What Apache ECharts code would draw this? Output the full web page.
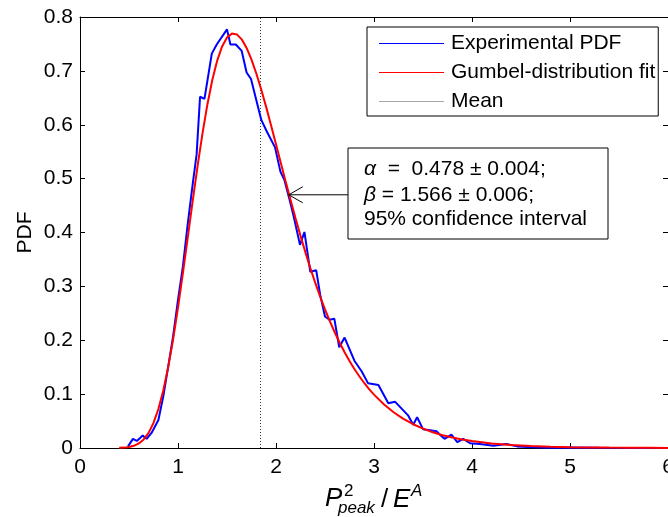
<!DOCTYPE html>
<html>
<head>
<meta charset="utf-8">
<script src="https://cdn.jsdelivr.net/npm/echarts@6/dist/echarts.min.js"></script>
<style>
html,body{margin:0;padding:0;background:#fff;}
#chart{width:668px;height:517px;}
</style>
</head>
<body>
<div id="chart"></div>
<script>
// ---- data ----
const expX = [0.49,0.54,0.58,0.64,0.68,0.73,0.80,0.85,0.90,0.95,1.00,1.05,1.10,1.15,1.19,1.225,1.27,1.345,1.395,1.50,1.535,1.59,1.65,1.70,1.745,1.85,1.905,1.99,2.045,2.085,2.14,2.18,2.245,2.29,2.35,2.41,2.45,2.50,2.545,2.595,2.645,2.70,2.80,2.875,2.94,3.045,3.146,3.214,3.35,3.40,3.44,3.50,3.64,3.67,3.72,3.79,3.85,3.91,3.98,4.08,4.22,4.35,4.46,4.63,4.80,5.00,5.30,5.60,6.00];
const expY = [0.003,0.017,0.013,0.023,0.017,0.028,0.052,0.096,0.151,0.207,0.275,0.337,0.417,0.49,0.545,0.652,0.648,0.732,0.749,0.777,0.749,0.749,0.737,0.697,0.685,0.609,0.588,0.558,0.513,0.498,0.46,0.43,0.377,0.401,0.327,0.330,0.285,0.244,0.238,0.240,0.187,0.205,0.162,0.142,0.120,0.117,0.083,0.086,0.060,0.043,0.057,0.035,0.031,0.025,0.017,0.025,0.011,0.017,0.009,0.0075,0.004,0.0075,0.003,0.0012,0.0005,0.0008,0.0003,0.0002,0.0001];

const fitX = [0.40,0.45,0.50,0.55,0.60,0.65,0.70,0.75,0.80,0.85,0.90,0.95,1.00,1.05,1.10,1.15,1.20,1.25,1.30,1.35,1.40,1.45,1.50,1.55,1.60,1.65,1.70,1.75,1.80,1.85,1.90,1.95,2.00,2.05,2.10,2.15,2.20,2.25,2.30,2.35,2.40,2.45,2.50,2.55,2.60,2.65,2.70,2.75,2.80,2.85,2.90,2.95,3.00,3.1,3.2,3.3,3.4,3.5,3.6,3.7,3.8,3.9,4.0,4.2,4.4,4.6,4.8,5.0,5.2,5.4,5.6,5.8,6.0];
const fitY = [0.0003,0.0007,0.0018,0.0040,0.0084,0.0159,0.0281,0.0465,0.0724,0.1068,0.1501,0.2017,0.2604,0.3245,0.3914,0.4588,0.5238,0.5841,0.6377,0.6831,0.7191,0.7454,0.7620,0.7692,0.7677,0.7585,0.7425,0.7209,0.6947,0.6650,0.6327,0.5988,0.5638,0.5285,0.4935,0.4592,0.4259,0.3938,0.3632,0.3342,0.3069,0.2812,0.2573,0.2350,0.2144,0.1953,0.1777,0.1616,0.1467,0.1332,0.1207,0.1094,0.0991,0.0811,0.0663,0.0542,0.0441,0.0360,0.0293,0.0238,0.0194,0.0157,0.0128,0.0084,0.0056,0.0037,0.0024,0.0016,0.0010,0.0007,0.0005,0.0003,0.0002];

const meanValue = 1.842;
const xRange = [0, 6];
const xStep = 1;
const yRange = [0, 0.8];
const yStep = 0.1;
const seriesNames = ['Experimental PDF', 'Gumbel-distribution fit', 'Mean'];
const annotationLines = ['0.478 \u00b1 0.004;', '1.566 \u00b1 0.006;', '95% confidence interval'];

// ---- chart ----
const FONT = 'Arial, "Liberation Sans", Helvetica, sans-serif';
const chart = echarts.init(document.getElementById('chart'), null, {renderer: 'canvas'});

function axisCommon(extra) {
  return Object.assign({
    axisLine: {show: true, onZero: false, lineStyle: {color: '#000', width: 1}},
    axisTick: {show: true, inside: true, length: 5, lineStyle: {color: '#000', width: 1}},
    splitLine: {show: false}
  }, extra);
}

const option = {
  animation: false,
  backgroundColor: '#fff',
  textStyle: {fontFamily: FONT},
  grid: {left: 80, top: 17, right: 0, bottom: 69, containLabel: false, outerBoundsMode: 'none'},
  xAxis: [
    axisCommon({type: 'value', min: xRange[0], max: xRange[1], interval: xStep, position: 'bottom',
      axisLabel: {color: '#000', fontSize: 21, margin: 9, fontFamily: FONT}}),
    axisCommon({type: 'value', min: xRange[0], max: xRange[1], interval: xStep, position: 'top',
      axisLabel: {show: false}})
  ],
  yAxis: [
    axisCommon({type: 'value', min: yRange[0], max: yRange[1], interval: yStep, position: 'left',
      axisLabel: {color: '#000', fontSize: 21, margin: 7, fontFamily: FONT},
      name: 'PDF', nameLocation: 'middle', nameGap: 44, nameMoveOverlap: false,
      nameTextStyle: {color: '#000', fontSize: 21, fontFamily: FONT}}),
    axisCommon({type: 'value', min: yRange[0], max: yRange[1], interval: yStep, position: 'right',
      axisLabel: {show: false}})
  ],
  legend: {
    orient: 'vertical', left: 367, top: 27,
    padding: [6, 3, 4, 12], itemGap: 8, itemWidth: 65, itemHeight: 1,
    icon: 'rect', backgroundColor: '#fff', borderColor: '#000', borderWidth: 1, borderRadius: 0,
    selectedMode: false,
    textStyle: {color: '#000', fontSize: 21, fontFamily: FONT, lineHeight: 21, padding: [0, 0, 0, 2]},
    data: [
      {name: seriesNames[0], itemStyle: {color: '#0000ff'}},
      {name: seriesNames[1], itemStyle: {color: '#ff0000'}},
      {name: seriesNames[2], itemStyle: {color: '#a8a8a8'}}
    ]
  },
  series: [
    {name: seriesNames[0], type: 'line', xAxisIndex: 0, yAxisIndex: 0,
     data: expX.map((x, i) => [x, expY[i]]), symbol: 'none', showSymbol: false,
     lineStyle: {color: '#0000ff', width: 2}, itemStyle: {color: '#0000ff'}, z: 2},
    {name: seriesNames[1], type: 'line', xAxisIndex: 0, yAxisIndex: 0,
     data: fitX.map((x, i) => [x, fitY[i]]), symbol: 'none', showSymbol: false,
     lineStyle: {color: '#ff0000', width: 2}, itemStyle: {color: '#ff0000'}, z: 3},
    {name: seriesNames[2], type: 'line', xAxisIndex: 0, yAxisIndex: 0,
     data: [[meanValue, yRange[0]], [meanValue, yRange[1]]], symbol: 'none', showSymbol: false,
     lineStyle: {color: '#333', width: 1, type: [1, 2]}, itemStyle: {color: '#a8a8a8'}, z: 1}
  ]
};
chart.setOption(option);

// annotation box + arrow, and the x-axis title (sub/superscripts)
const tip = chart.convertToPixel({xAxisIndex: 0, yAxisIndex: 0}, [2.13, 0.47]);
const boxX = 348, boxY = 148, boxW = 260, boxH = 91;
const ay = tip[1];
chart.setOption({
  graphic: [
    {type: 'rect', shape: {x: boxX, y: boxY, width: boxW, height: boxH},
     style: {fill: '#fff', stroke: '#000', lineWidth: 1}, z: 10},
    {type: 'line', shape: {x1: boxX, y1: ay, x2: tip[0], y2: ay},
     style: {stroke: '#000', lineWidth: 1}, z: 10},
    {type: 'polyline', shape: {points: [[tip[0] + 14, ay - 8], [tip[0], ay], [tip[0] + 14, ay + 8]]},
     style: {stroke: '#000', lineWidth: 1, fill: null}, z: 10},
    {type: 'text', x: 364, y: 169, z: 11,
     style: {text: '{i|\u03b1}  =  ' + annotationLines[0], font: '21px ' + FONT, fill: '#000',
       verticalAlign: 'middle', rich: {i: {fontStyle: 'italic', fontSize: 21, fontFamily: FONT}}}},
    {type: 'text', x: 364, y: 195, z: 11,
     style: {text: '{i|\u03b2} = ' + annotationLines[1], font: '21px ' + FONT, fill: '#000',
       verticalAlign: 'middle', rich: {i: {fontStyle: 'italic', fontSize: 21, fontFamily: FONT}}}},
    {type: 'text', x: 364, y: 219, z: 11,
     style: {text: annotationLines[2], font: '21px ' + FONT, fill: '#000', verticalAlign: 'middle'}},
    // x-axis title: P^2_peak / E^A
    {type: 'text', x: 325, y: 499, z: 11,
     style: {text: 'P', font: 'italic 26px ' + FONT, fill: '#000', verticalAlign: 'middle'}},
    {type: 'text', x: 344, y: 491, z: 11,
     style: {text: '2', font: '17px ' + FONT, fill: '#000', verticalAlign: 'middle'}},
    {type: 'text', x: 338, y: 508, z: 11,
     style: {text: 'peak', font: 'italic 17px ' + FONT, fill: '#000', verticalAlign: 'middle'}},
    {type: 'text', x: 381, y: 500, z: 11,
     style: {text: '/', font: '26px ' + FONT, fill: '#000', verticalAlign: 'middle'}},
    {type: 'text', x: 393, y: 500, z: 11,
     style: {text: 'E', font: 'italic 26px ' + FONT, fill: '#000', verticalAlign: 'middle'}},
    {type: 'text', x: 411, y: 491, z: 11,
     style: {text: 'A', font: 'italic 17px ' + FONT, fill: '#000', verticalAlign: 'middle'}}
  ]
});
</script>
</body>
</html>
